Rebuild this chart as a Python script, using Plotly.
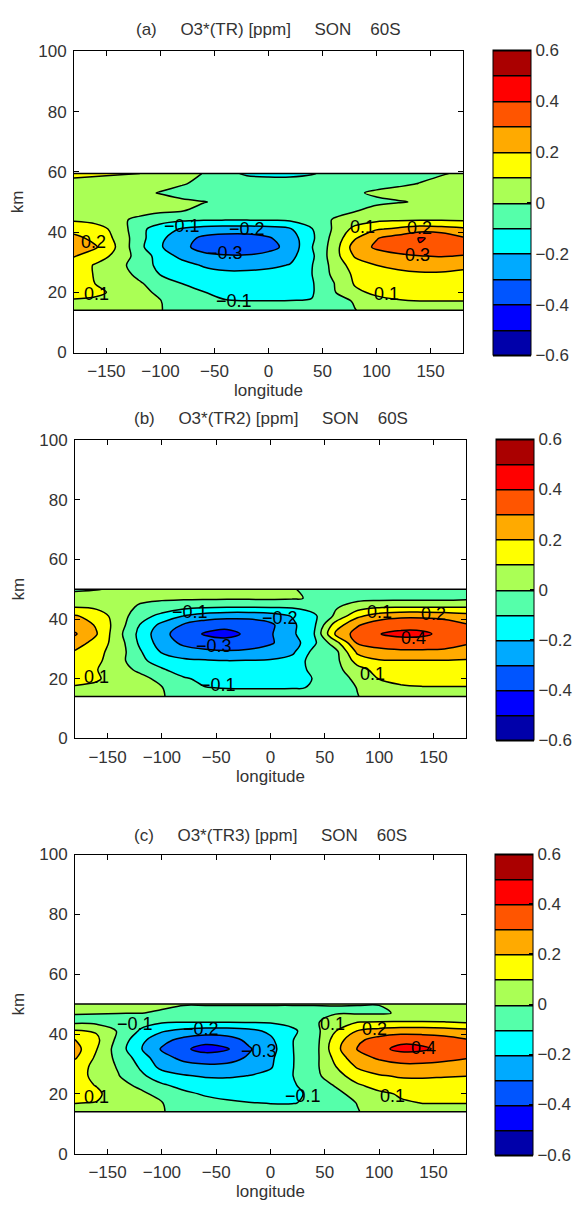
import plotly.graph_objects as go

# ---------------- data ----------------
lon = [-180, -160, -140, -120, -100, -80, -60, -40, -20, 0, 20, 40, 60, 80, 100, 120, 140, 160, 180]
km_a = [14, 17, 20, 23, 26, 29, 32, 35, 38, 41, 44, 47, 50, 53, 56, 59.4]
km_bc = [14, 17, 20, 23, 26, 29, 32, 35, 38, 41, 44, 47, 50]

# panel (a) O3*(TR)  rows = km_a, columns = lon
o3_tr = [
    [0.06, 0.06, 0.05, 0.02, 0.003, -0.03, -0.05, -0.07, -0.08, -0.08, -0.07, -0.06, -0.04, -0.003, 0.04, 0.06, 0.07, 0.07, 0.07],
    [0.09, 0.08, 0.06, 0.03, 0.003, -0.04, -0.07, -0.095, -0.098, -0.098, -0.098, -0.095, -0.05, 0.01, 0.07, 0.09, 0.098, 0.098, 0.098],
    [0.13, 0.12, 0.08, 0.03, -0.02, -0.06, -0.098, -0.12, -0.13, -0.13, -0.12, -0.11, -0.01, 0.08, 0.12, 0.14, 0.15, 0.15, 0.14],
    [0.13, 0.098, 0.05, 0.01, -0.04, -0.102, -0.13, -0.15, -0.16, -0.15, -0.14, -0.11, -0.005, 0.11, 0.15, 0.17, 0.18, 0.18, 0.17],
    [0.12, 0.097, 0.04, -0.02, -0.105, -0.13, -0.16, -0.18, -0.18, -0.17, -0.15, -0.102, 0.02, 0.12, 0.16, 0.18, 0.19, 0.19, 0.18],
    [0.16, 0.09, 0.03, -0.04, -0.13, -0.16, -0.21, -0.23, -0.23, -0.22, -0.195, -0.105, 0.03, 0.15, 0.2, 0.22, 0.23, 0.23, 0.22],
    [0.205, 0.15, 0.07, -0.04, -0.14, -0.23, -0.28, -0.29, -0.29, -0.27, -0.23, -0.12, 0.05, 0.21, 0.26, 0.28, 0.295, 0.305, 0.295],
    [0.27, 0.21, 0.09, -0.07, -0.19, -0.28, -0.33, -0.36, -0.36, -0.33, -0.27, -0.105, 0.04, 0.25, 0.315, 0.35, 0.395, 0.385, 0.34],
    [0.23, 0.17, 0.08, -0.06, -0.18, -0.26, -0.32, -0.34, -0.34, -0.31, -0.25, -0.12, 0.03, 0.19, 0.295, 0.34, 0.405, 0.385, 0.31],
    [0.16, 0.14, 0.07, -0.07, -0.15, -0.21, -0.24, -0.25, -0.25, -0.24, -0.21, -0.105, 0.01, 0.13, 0.19, 0.22, 0.25, 0.24, 0.22],
    [0.09, 0.07, 0.02, -0.02, -0.06, -0.085, -0.095, -0.098, -0.098, -0.095, -0.085, -0.05, 0.005, 0.05, 0.08, 0.09, 0.095, 0.095, 0.09],
    [0.06, 0.05, 0.04, 0.03, 0.015, 0.002, -0.015, -0.025, -0.03, -0.035, -0.035, -0.03, -0.02, -0.003, 0.02, 0.04, 0.05, 0.06, 0.06],
    [0.04, 0.035, 0.03, 0.02, 0.015, 0.008, 0.002, -0.01, -0.02, -0.03, -0.035, -0.035, -0.03, -0.02, -0.012, -0.004, 0.005, 0.02, 0.035],
    [0.04, 0.03, 0.02, 0.008, -0.002, -0.015, -0.03, -0.04, -0.05, -0.055, -0.055, -0.045, -0.03, -0.008, 0.01, 0.02, 0.03, 0.035, 0.04],
    [0.06, 0.05, 0.04, 0.025, 0.012, 0.003, -0.01, -0.04, -0.06, -0.07, -0.07, -0.06, -0.04, -0.03, -0.02, -0.01, 0.002, 0.02, 0.05],
    [0.13, 0.12, 0.11, 0.102, 0.06, 0.03, -0.003, -0.08, -0.11, -0.115, -0.115, -0.105, -0.08, -0.05, -0.03, -0.02, -0.015, -0.005, 0.01],
]

# panel (b) O3*(TR2)  rows = km_bc
o3_tr2 = [
    [0.06, 0.06, 0.05, 0.03, 0.005, -0.03, -0.06, -0.07, -0.08, -0.08, -0.07, -0.06, -0.04, -0.003, 0.04, 0.06, 0.07, 0.07, 0.07],
    [0.09, 0.08, 0.06, 0.03, 0.003, -0.05, -0.098, -0.103, -0.103, -0.103, -0.103, -0.098, -0.05, 0.003, 0.06, 0.09, 0.095, 0.095, 0.095],
    [0.13, 0.11, 0.06, 0.03, -0.03, -0.09, -0.12, -0.13, -0.13, -0.13, -0.12, -0.098, -0.04, 0.02, 0.103, 0.12, 0.13, 0.13, 0.13],
    [0.14, 0.103, 0.04, -0.02, -0.09, -0.14, -0.16, -0.17, -0.17, -0.16, -0.14, -0.08, -0.03, 0.06, 0.14, 0.16, 0.17, 0.17, 0.16],
    [0.16, 0.12, 0.04, -0.08, -0.14, -0.18, -0.19, -0.198, -0.195, -0.19, -0.16, -0.06, -0.03, 0.14, 0.19, 0.195, 0.195, 0.195, 0.19],
    [0.19, 0.13, 0.05, -0.09, -0.21, -0.26, -0.28, -0.29, -0.28, -0.26, -0.22, -0.07, -0.03, 0.22, 0.27, 0.28, 0.28, 0.28, 0.26],
    [0.25, 0.16, 0.05, -0.12, -0.25, -0.32, -0.35, -0.36, -0.35, -0.31, -0.25, -0.12, 0.06, 0.31, 0.34, 0.36, 0.36, 0.34, 0.31],
    [0.31, 0.205, 0.03, -0.13, -0.27, -0.35, -0.41, -0.43, -0.38, -0.31, -0.22, -0.105, 0.22, 0.34, 0.398, 0.42, 0.415, 0.38, 0.34],
    [0.26, 0.19, 0.05, -0.105, -0.23, -0.31, -0.36, -0.37, -0.36, -0.32, -0.22, -0.12, 0.15, 0.29, 0.36, 0.37, 0.37, 0.35, 0.31],
    [0.21, 0.16, 0.05, -0.06, -0.13, -0.205, -0.25, -0.27, -0.27, -0.25, -0.195, -0.12, 0.02, 0.18, 0.25, 0.28, 0.28, 0.27, 0.24],
    [0.098, 0.08, 0.03, -0.01, -0.04, -0.07, -0.09, -0.098, -0.098, -0.095, -0.09, -0.06, -0.01, 0.05, 0.09, 0.098, 0.098, 0.098, 0.098],
    [0.03, 0.03, 0.02, 0.015, 0.015, 0.015, 0.015, 0.015, 0.015, 0.015, 0.01, -0.01, -0.03, -0.03, -0.03, -0.03, -0.03, -0.03, -0.02],
    [-0.01, -0.003, 0.01, 0.02, 0.02, 0.02, 0.02, 0.02, 0.02, 0.015, 0.005, -0.02, -0.03, -0.03, -0.03, -0.03, -0.03, -0.03, -0.02],
]

# panel (c) O3*(TR3)  rows = km_bc
o3_tr3 = [
    [0.07, 0.07, 0.06, 0.03, 0.005, -0.03, -0.05, -0.06, -0.07, -0.07, -0.07, -0.06, -0.04, -0.005, 0.04, 0.06, 0.07, 0.07, 0.07],
    [0.102, 0.098, 0.07, 0.04, 0.003, -0.04, -0.07, -0.09, -0.098, -0.103, -0.103, -0.09, -0.04, 0.003, 0.06, 0.09, 0.102, 0.102, 0.102],
    [0.11, 0.11, 0.07, 0.02, -0.03, -0.08, -0.11, -0.12, -0.13, -0.13, -0.12, -0.08, -0.03, 0.04, 0.08, 0.11, 0.12, 0.12, 0.12],
    [0.12, 0.097, 0.03, -0.02, -0.09, -0.13, -0.15, -0.16, -0.16, -0.15, -0.11, -0.06, 0.01, 0.09, 0.14, 0.16, 0.17, 0.17, 0.16],
    [0.13, 0.08, 0.005, -0.08, -0.15, -0.19, -0.21, -0.21, -0.198, -0.17, -0.103, -0.03, 0.06, 0.15, 0.19, 0.21, 0.21, 0.205, 0.202],
    [0.15, 0.07, -0.01, -0.11, -0.23, -0.27, -0.28, -0.28, -0.25, -0.21, -0.105, -0.03, 0.097, 0.21, 0.26, 0.28, 0.28, 0.27, 0.25],
    [0.21, 0.08, -0.03, -0.14, -0.27, -0.32, -0.34, -0.33, -0.29, -0.22, -0.105, -0.04, 0.13, 0.27, 0.31, 0.33, 0.33, 0.32, 0.305],
    [0.24, 0.103, -0.05, -0.19, -0.31, -0.38, -0.44, -0.41, -0.31, -0.24, -0.103, -0.05, 0.17, 0.305, 0.37, 0.43, 0.42, 0.37, 0.33],
    [0.205, 0.12, -0.03, -0.17, -0.27, -0.33, -0.36, -0.34, -0.28, -0.22, -0.103, -0.05, 0.15, 0.28, 0.34, 0.37, 0.36, 0.34, 0.31],
    [0.11, 0.09, -0.01, -0.11, -0.19, -0.23, -0.25, -0.25, -0.23, -0.18, -0.12, -0.04, 0.098, 0.205, 0.24, 0.26, 0.26, 0.25, 0.23],
    [-0.02, -0.03, -0.05, -0.07, -0.09, -0.098, -0.098, -0.098, -0.095, -0.09, -0.07, -0.02, 0.06, 0.098, 0.105, 0.105, 0.105, 0.102, 0.09],
    [0.004, 0.003, 0.002, 0.001, -0.004, -0.012, -0.012, -0.012, -0.012, -0.012, -0.012, -0.01, -0.008, -0.01, -0.012, 0.01, 0.02, 0.02, 0.01],
    [0.015, 0.015, 0.015, 0.015, 0.006, 0.002, 0.002, 0.002, 0.002, 0.002, 0.002, 0.002, 0.002, 0.002, 0.002, 0.015, 0.02, 0.015, 0.015],
]

# contour labels (level, lon, km) as placed in the original figure
lab_a_level = [-0.1, -0.2, -0.3, -0.1, 0.1, 0.2, 0.3, 0.1, 0.2, 0.1]
lab_a_lon = [-80, -20, -40, -32, 87, 140, 138, 109, -162, -159]
lab_a_km = [42.1, 41.0, 32.9, 17.1, 41.6, 41.2, 32.3, 19.5, 36.7, 19.5]
lab_b_level = [-0.1, -0.2, -0.3, -0.1, 0.1, 0.2, 0.4, 0.1, 0.1]
lab_b_lon = [-74, 9, -52, -48, 100, 150, 132, 94, -160]
lab_b_km = [42.3, 40.5, 30.8, 17.9, 42.3, 41.8, 33.6, 21.7, 20.6]
lab_c_level = [-0.1, -0.2, -0.3, -0.1, 0.1, 0.2, 0.4, 0.1, 0.1]
lab_c_lon = [-125, -64, -11, 30, 57, 96, 141, 112, -160]
lab_c_km = [43.4, 41.8, 34.4, 19.3, 43.4, 41.8, 35.3, 19.3, 19.0]

titles = ["(a)     O3*(TR) [ppm]     SON    60S",
          "(b)     O3*(TR2) [ppm]     SON    60S",
          "(c)     O3*(TR3) [ppm]     SON    60S"]
x_ticks = [-150, -100, -50, 0, 50, 100, 150]
y_ticks = [0, 20, 40, 60, 80, 100]
cbar_ticks = [-0.6, -0.4, -0.2, 0, 0.2, 0.4, 0.6]
cbar_labels = ["\u22120.6", "\u22120.4", "\u22120.2", "0", "0.2", "0.4", "0.6"]

# ---------------- style ----------------
W, H = 582, 1209
jet12 = ['#0000aa', '#0000ff', '#0055ff', '#00aaff', '#00ffff', '#55ffaa',
         '#aaff55', '#ffff00', '#ffaa00', '#ff5500', '#ff0000', '#aa0000']
n = len(jet12)
cs = []
for k, c in enumerate(jet12):
    lo = 0.0 if k == 0 else (k + 0.5) / n
    hi = 1.0 if k == n - 1 else (k + 1.5) / n
    cs.append([lo, c])
    cs.append([hi, c])

FONT = "Liberation Sans, Arial, Helvetica, sans-serif"
TXT = "#333333"
FS = 17
LW = 1.5

# pixel boxes: (left, right, top, bottom)
boxes = [(74, 463, 43, 349), (75, 466, 438, 741), (75, 466, 859, 1163)]
cbars = [(493, 42, 352), (496, 437, 743), (495, 858, 1164)]
title_y = [21, 416, 840]


def px(x):
    return x / W


def py(y):
    return 1 - y / H


def fmt(v):
    s = f"{abs(v):.1f}"
    return ("\u2212" + s) if v < 0 else s


fig = go.Figure()
data = [(km_a, o3_tr), (km_bc, o3_tr2), (km_bc, o3_tr3)]
labels = [(lab_a_level, lab_a_lon, lab_a_km), (lab_b_level, lab_b_lon, lab_b_km),
          (lab_c_level, lab_c_lon, lab_c_km)]
layout = dict(width=W, height=H, margin=dict(l=0, r=0, t=0, b=0),
              paper_bgcolor="white", plot_bgcolor="white", showlegend=False,
              font=dict(family=FONT, color=TXT, size=FS), annotations=[])

for i, ((kms, z), (l, r, t, b), (cx, ct, cb), (lv, llon, lkm)) in enumerate(
        zip(data, boxes, cbars, labels)):
    xa = "x" if i == 0 else f"x{i+1}"
    ya = "y" if i == 0 else f"y{i+1}"
    fig.add_trace(go.Contour(
        x=lon, y=kms, z=z, xaxis=xa, yaxis=ya,
        autocontour=False,
        contours=dict(start=-0.6, end=0.6, size=0.1, coloring="fill", showlabels=False),
        colorscale=cs, zmin=-0.6, zmax=0.6,
        line=dict(color="black", width=LW, smoothing=1.0),
        colorbar=dict(x=px(cx), xanchor="left", xref="paper",
                      y=py((ct + cb) / 2), yanchor="middle", yref="paper",
                      len=(cb - ct) / H, lenmode="fraction", thickness=38,
                      thicknessmode="pixels", xpad=0, ypad=0,
                      outlinecolor="black", outlinewidth=1,
                      tickmode="array", tickvals=cbar_ticks, ticktext=cbar_labels,
                      ticks="inside", ticklen=4, tickcolor="black",
                      tickfont=dict(size=FS, color=TXT, family=FONT)),
        hoverinfo="skip"))
    # band boundary lines (top and bottom of data)
    for kk in (kms[0], kms[-1]):
        fig.add_trace(go.Scatter(x=[lon[0], lon[-1]], y=[kk, kk], mode="lines",
                                 line=dict(color="black", width=LW),
                                 xaxis=xa, yaxis=ya, hoverinfo="skip"))
    # contour labels (horizontal, as in clabel)
    for v, lo_, k_ in zip(lv, llon, lkm):
        layout["annotations"].append(dict(
            text=fmt(v), x=lo_, y=k_, xref=xa, yref=ya, showarrow=False,
            xanchor="center", yanchor="middle",
            font=dict(size=18, color="black", family=FONT)))
    axcommon = dict(showline=True, linecolor="black", linewidth=1, mirror="ticks",
                    ticks="inside", ticklen=5, tickcolor="black", showgrid=False,
                    zeroline=False, tickfont=dict(size=FS, color=TXT, family=FONT))
    layout["xaxis" if i == 0 else f"xaxis{i+1}"] = dict(
        axcommon, domain=[px(l), px(r)], range=[-180, 180], tickvals=x_ticks,
        anchor=ya, ticklabelstandoff=3,
        title=dict(text="longitude", font=dict(size=FS, color=TXT), standoff=0))
    layout["yaxis" if i == 0 else f"yaxis{i+1}"] = dict(
        axcommon, domain=[py(b), py(t)], range=[0, 100], tickvals=y_ticks,
        anchor=xa, ticklabelstandoff=3,
        title=dict(text="km", font=dict(size=FS, color=TXT), standoff=10))
    layout["annotations"].append(dict(
        text=titles[i].replace(" ", "\u00a0"), x=px((l + r) / 2), y=py(title_y[i]),
        xref="paper", yref="paper", xanchor="center", yanchor="middle",
        showarrow=False, font=dict(size=FS, color=TXT, family=FONT)))

fig.update_layout(**layout)
fig.write_html("out.html", config={"displayModeBar": False, "staticPlot": True},
               post_script="document.body.style.margin='0px';document.body.style.overflow='hidden';")
